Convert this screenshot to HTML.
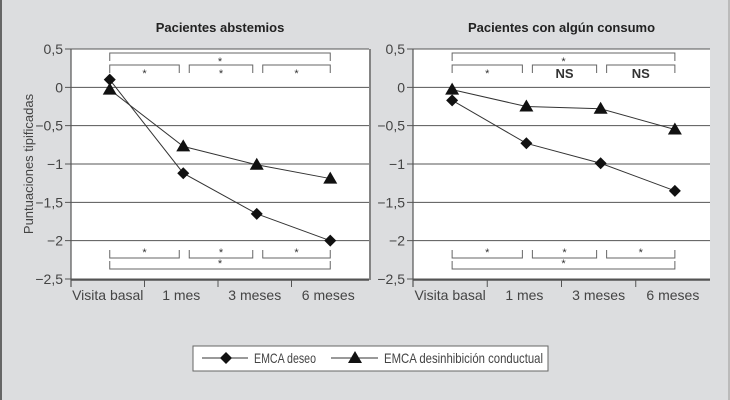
<!DOCTYPE html>
<html><head><meta charset="utf-8">
<style>
html,body{margin:0;padding:0;background:#dcdddf;}
svg{display:block;font-family:"Liberation Sans Narrow","Liberation Sans",sans-serif;}
</style></head>
<body>
<svg id="chart" width="730" height="400" viewBox="0 0 730 400">
<rect x="0" y="0" width="730" height="400" fill="#dcdddf"/>
<line x1="1" y1="0" x2="1" y2="400" stroke="#666" stroke-width="2"/>
<line x1="729" y1="0" x2="729" y2="400" stroke="#bbb" stroke-width="2"/>
</svg>
<script>
const categories = ["Visita basal","1 mes","3 meses","6 meses"];
const yTicks = [0.5,0,-0.5,-1,-1.5,-2,-2.5];
const yTickLabels = ["0,5","0","\u22120,5","\u22121","\u22121,5","\u22122","\u22122,5"];
const leftDeseo = [0.1,-1.12,-1.65,-2.0];
const leftDesinh = [-0.03,-0.77,-1.01,-1.19];
const rightDeseo = [-0.17,-0.73,-0.99,-1.35];
const rightDesinh = [-0.03,-0.25,-0.28,-0.55];
const leftTopSig = ["*","*","*","*"];
const rightTopSig = ["*","NS","NS","*"];
const leftBotSig = ["*","*","*","*"];
const rightBotSig = ["*","*","*","*"];

const NS = "http://www.w3.org/2000/svg";
const svg = document.getElementById("chart");
function mk(tag, attrs, parent){
  const e = document.createElementNS(NS, tag);
  for (const k in attrs) e.setAttribute(k, attrs[k]);
  (parent||svg).appendChild(e);
  return e;
}
const Y0 = 49, Y1 = 279;
function yScale(v){ return Y0 + (0.5 - v) / 3 * (Y1 - Y0); }

function panel(prefix, x0, x1, title, deseo, desinh, topSig, botSig){
  const g = mk("g", {});
  
  
  const bw = (x1 - x0) / categories.length;
  const xScale = i => x0 + bw * (i + 0.5) + 2;
  const rEnd = prefix==='left' ? 369 : x1;
  const bg = mk("rect", {x:x0, y:Y0, width:rEnd-x0, height:Y1-Y0+1, fill:"#fff"}, g);
  
  
  yTicks.forEach((t, i) => {
    const y = yScale(t);
    const gl = mk("line", {x1:x0-6, y1:y, x2:rEnd, y2:y, stroke:"#555", "stroke-width":1}, g);
    
    
    const tl = mk("text", {x:x0-8, y:y+5, "text-anchor":"end", "font-size":14, fill:"#444"}, g);
    tl.textContent = yTickLabels[i];
    
    
  });
  const ya = mk("line", {x1:x0, y1:Y0, x2:x0, y2:Y1+8, stroke:"#555", "stroke-width":1.2}, g);
  
  
  const xa = mk("line", {x1:x0, y1:Y1+1, x2:rEnd, y2:Y1+1, stroke:"#555", "stroke-width":1.5}, g);
  
  
  categories.forEach((c, i) => {
    if (i > 0) {
      const tk = mk("line", {x1:x0+bw*i, y1:Y1+1, x2:x0+bw*i, y2:Y1+8, stroke:"#555"}, g);
      
      
    }
    const t = mk("text", {x:x0+bw*(i+0.5), y:Y1+21, "text-anchor":"middle", "font-size":14, fill:"#444"}, g);
    t.textContent = c;
    
    
  });
  const tt = mk("text", {x:(x0+rEnd)/2, y:32, "text-anchor":"middle", "font-size":13, "font-weight":"bold", fill:"#222"}, g);
  tt.textContent = title;
  
  

  function bracket(xa_, xb, y, dir, label, name){
    const p = mk("path", {d:`M${xa_},${y+dir*8} V${y} H${xb} V${y+dir*8}`, fill:"none", stroke:"#666", "stroke-width":1}, g);
    
    
    const isNS = label === "NS";
    const tx = mk("text", {x:(xa_+xb)/2, y: isNS ? y+13 : (dir>0 ? y+12 : y-2), "text-anchor":"middle", "font-size":isNS?13:11, "font-weight":isNS?"bold":"normal", fill:"#333"}, g);
    tx.textContent = label;
    
    
  }
  const c0 = xScale(0), c3 = xScale(3);
  bracket(c0, c3, 53, 1, topSig[3], 'bracket-top-overall');
  bracket(c0, c3, 269, -1, botSig[3], 'bracket-bottom-overall');
  for (let i = 0; i < 3; i++) {
    const a = i === 0 ? xScale(0) : x0 + bw*(i+0.5) + 8;
    const b = i === 2 ? xScale(3) : x0 + bw*(i+1.5) - 2;
    bracket(a, b, 65, 1, topSig[i], 'bracket-top-' + i);
    bracket(a, b, 258, -1, botSig[i], 'bracket-bottom-' + i);
  }

  function series(vals, shape, name){
    const pts = vals.map((v, i) => [xScale(i), yScale(v)]);
    const pl = mk("polyline", {points:pts.map(p=>p.join(",")).join(" "), fill:"none", stroke:"#333", "stroke-width":1}, g);
    
    
    pts.forEach(([x, y]) => {
      let m;
      if (shape === "diamond") m = mk("path", {d:`M${x},${y-6} L${x+6},${y} L${x},${y+6} L${x-6},${y} Z`, fill:"#111"}, g);
      else m = mk("path", {d:`M${x},${y-7} L${x+7},${y+5} L${x-7},${y+5} Z`, fill:"#111"}, g);
      
      
    });
  }
  series(deseo, "diamond", "deseo");
  series(desinh, "triangle", "desinhibicion");
}
panel("left", 71, 365, "Pacientes abstemios", leftDeseo, leftDesinh, leftTopSig, leftBotSig);
const sep = mk("line", {x1:370, y1:Y0, x2:370, y2:Y1+1, stroke:"#666", "stroke-width":1.5});


panel("right", 413, 710, "Pacientes con algún consumo", rightDeseo, rightDesinh, rightTopSig, rightBotSig);

const yt = mk("text", {x:0, y:0, transform:"translate(33,164) rotate(-90)", "text-anchor":"middle", "font-size":13, fill:"#444"});
yt.textContent = "Puntuaciones tipificadas";



const lg = mk("g", {});


const lr = mk("rect", {x:193, y:346, width:355, height:25, fill:"#fff", stroke:"#666", "stroke-width":1}, lg);


const l1 = mk("line", {x1:202, y1:358, x2:248, y2:358, stroke:"#333"}, lg);


const m1 = mk("path", {d:"M226,352 L232,358 L226,364 L220,358 Z", fill:"#111"}, lg);


const t1 = mk("text", {x:254, y:363, "font-size":14, fill:"#444", textLength:62, lengthAdjust:"spacingAndGlyphs"}, lg);
t1.textContent = "EMCA deseo";


const l2 = mk("line", {x1:331, y1:358, x2:378, y2:358, stroke:"#333"}, lg);


const m2 = mk("path", {d:"M355,351 L362,363 L348,363 Z", fill:"#111"}, lg);


const t2 = mk("text", {x:384, y:363, "font-size":14, fill:"#444", textLength:159, lengthAdjust:"spacingAndGlyphs"}, lg);
t2.textContent = "EMCA desinhibición conductual";


</script>
</body></html>
